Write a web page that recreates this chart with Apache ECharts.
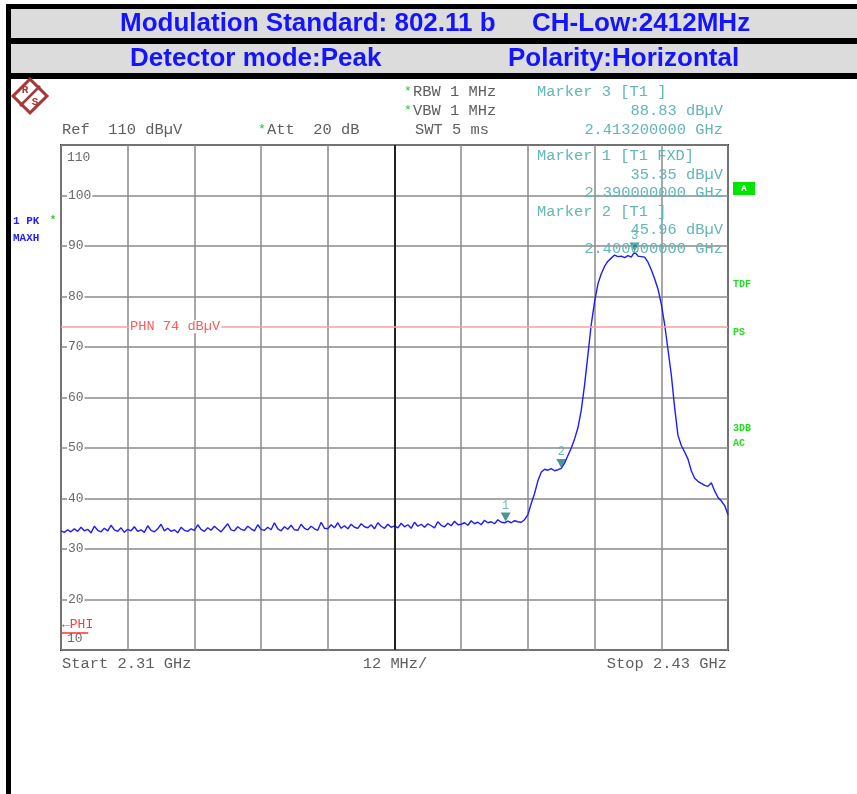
<!DOCTYPE html>
<html><head><meta charset="utf-8">
<script src="https://cdn.jsdelivr.net/npm/echarts@6/dist/echarts.min.js"></script>
<style>html,body{margin:0;padding:0;background:#fff}#c{width:857px;height:794px}</style>
</head><body><div id="c"></div>
<script>
// ---------- data ----------
const headerLine1 = ['Modulation Standard: 802.11 b', 'CH-Low:2412MHz'];
const headerLine2 = ['Detector mode:Peak', 'Polarity:Horizontal'];
const freqStartMHz = 2310;
const freqStopMHz = 2430;
const sweepStepMHz = 0.6;
const yMin = 10, yMax = 110, yStep = 10;
const yTickLabels = ['10','20','30','40','50','60','70','80','90','100','110'];
// trace levels (dBµV) at each sweep point from 2310 MHz in 0.6 MHz steps
const traceLevels = [
  33.6,33.3,33.8,33.4,34.0,33.5,34.3,33.6,33.9,33.2,34.5,33.7,33.4,34.1,33.6,34.7,33.8,33.5,34.2,33.3,
  33.9,33.6,34.4,33.5,33.8,33.3,34.6,33.7,33.4,34.0,34.9,33.6,34.1,33.5,33.8,33.2,34.3,33.7,33.5,34.0,
  33.7,34.8,33.9,33.5,34.2,33.7,34.5,33.9,33.4,34.2,35.0,33.8,33.6,34.4,33.9,33.7,34.5,34.0,33.6,34.8,
  33.9,33.7,34.3,33.8,35.2,34.0,33.6,34.4,33.9,34.7,33.8,33.7,34.9,34.1,33.8,34.5,34.0,33.7,35.3,34.1,
  34.0,34.8,34.2,35.2,34.1,34.6,34.0,34.9,34.3,34.1,35.0,34.4,34.2,34.8,34.0,35.2,34.5,34.1,34.9,34.3,
  34.6,34.2,35.1,34.4,34.8,34.1,35.3,34.5,34.9,34.3,35.0,34.6,34.2,35.4,34.7,34.4,35.1,34.6,35.5,34.8,
  34.9,35.2,34.7,35.6,35.0,35.3,34.8,35.7,35.2,35.4,35.0,35.8,35.3,35.2,
  35.5,35.2,35.6,35.4,35.3,35.8,36.8,39.0,41.0,43.5,45.2,45.8,45.6,45.9,45.5,45.7,45.96,47.0,48.5,50.0,
  51.8,54.0,57.5,62.5,68.5,74.5,79.0,82.5,84.5,86.0,87.0,87.6,88.2,87.9,88.0,87.7,88.1,87.8,88.83,88.0,
  87.9,87.8,86.8,85.3,83.5,81.5,78.5,74.5,69.5,64.5,58.0,52.5,50.5,49.2,47.8,45.5,44.0,43.4,43.0,42.6,
  42.4,43.1,41.5,40.2,39.5,38.6,36.8
];
const markerNames = ['1','2','3'];
const markerFreqs = [2390.0, 2400.0, 2413.2];
const markerLevels = [35.35, 45.96, 88.83];
const displayLineLevel = 74;       // PHN
const displayLineName = 'PHN 74 dBµV';
const phiLevel = 13.5;
const phiEndMHz = 2314.9;
const centerFreqMHz = 2370;
const topInfo = ['RBW 1 MHz', 'VBW 1 MHz', 'SWT 5 ms', 'Ref  110 dBµV', 'Att  20 dB'];
const markerReadouts = [
  ['Marker 3 [T1 ]', '88.83 dBµV', '2.413200000 GHz'],
  ['Marker 1 [T1 FXD]', '35.35 dBµV', '2.390000000 GHz'],
  ['Marker 2 [T1 ]', '45.96 dBµV', '2.400000000 GHz']
];
const bottomInfo = ['Start 2.31 GHz', '12 MHz/', 'Stop 2.43 GHz'];
const sideLabels = ['TDF', 'PS', '3DB', 'AC'];

// ---------- chart ----------
const MONO = "'Liberation Mono','DejaVu Sans Mono',monospace";
const chart = echarts.init(document.getElementById('c'), null, {renderer: 'canvas'});
const traceData = traceLevels.map((v, i) => [+(freqStartMHz + i * sweepStepMHz).toFixed(1), v]);
const markerData = markerFreqs.map((f, i) => [f, markerLevels[i]]);

const gridLine = {color: '#8a8a8a', width: 1.5};

chart.setOption({
  animation: false,
  backgroundColor: '#fff',
  grid: {left: 61, top: 145, width: 667, height: 505, show: true, borderColor: '#333', borderWidth: 2, backgroundColor: 'transparent'},
  xAxis: [
    {type: 'value', min: freqStartMHz, max: freqStopMHz, splitLine: {show: false},
     axisLine: {show: false}, axisTick: {show: false}, axisLabel: {show: false}},
    {type: 'value', min: 0, max: 10, interval: 1, position: 'top', splitLine: {show: true, lineStyle: gridLine},
     axisLine: {show: false}, axisTick: {show: false}, axisLabel: {show: false}}
  ],
  yAxis: {
    type: 'value', min: yMin, max: yMax, interval: yStep,
    axisLine: {show: false}, axisTick: {show: false},
    splitLine: {show: true, lineStyle: gridLine},
    axisLabel: {
      inside: true, margin: 6, color: '#6a6a6a', fontFamily: MONO, fontSize: 13,
      formatter: v => {
        const s = yTickLabels[Math.round((v - yMin) / yStep)];
        if (v === yMax) return '{top|' + s + '}';
        if (v === yMin) return '{bot|' + s + '}';
        return '{n|' + s + '}';
      },
      rich: {
        n: {backgroundColor: '#fff', padding: [0, 1, 0, 1], color: '#6a6a6a', fontFamily: MONO, fontSize: 13},
        top: {padding: [26, 0, 0, 0], color: '#6a6a6a', fontFamily: MONO, fontSize: 13},
        bot: {padding: [0, 0, 22, 0], color: '#6a6a6a', fontFamily: MONO, fontSize: 13}
      }
    }
  },
  series: [
    {
      type: 'line', data: traceData, showSymbol: false, z: 3,
      lineStyle: {color: '#1c1cff', width: 1.4}, itemStyle: {color: '#1c1cff'},
      markLine: {
        silent: true, symbol: 'none', animation: false,
        data: [
          {xAxis: centerFreqMHz, lineStyle: {color: '#222', width: 2, type: 'solid'}, label: {show: false}},
          {yAxis: displayLineLevel, lineStyle: {color: '#ff9c9c', width: 1.5, type: 'solid'}, label: {show: false}},
          [
            {coord: [freqStartMHz, phiLevel], lineStyle: {color: '#ff3030', width: 1.5, type: 'solid'},
             label: {show: true, position: 'insideStartTop', formatter: '←PHI', color: '#ff3a3a', fontFamily: MONO, fontSize: 13, distance: 1}},
            {coord: [phiEndMHz, phiLevel]}
          ]
        ]
      }
    },
    {
      type: 'scatter', data: markerData, z: 5,
      symbol: 'triangle', symbolRotate: 180, symbolSize: [10, 9], symbolOffset: [0, -5],
      itemStyle: {color: '#1e7d7d'},
      label: {show: true, position: 'top', distance: 1, formatter: p => markerNames[p.dataIndex],
              color: '#4aa8a8', fontFamily: MONO, fontSize: 12}
    }
  ]
});

function T(x, y, text, o) {
  o = o || {};
  return {type: 'text', x: x, y: y, z: 100, silent: true, scaleX: o.sx || 1,
    style: {text: text, fill: o.fill || '#5e5e5e', font: o.font || ('13px ' + MONO),
            align: o.align || 'left', verticalAlign: o.va || 'middle',
            backgroundColor: o.bg, padding: o.pad}};
}
// mono annotation text, slightly widened like the analyser's Courier
function M(x, y, text, o) {
  o = Object.assign({font: '14px ' + MONO, sx: 1.1}, o || {});
  return T(x, y, text, o);
}
const headFont = "bold 26px 'Liberation Sans', Arial, sans-serif";
const headBlue = '#1414ff';
const mtc = '#62b6b6';
const greenT = '#22dd22';
const smallBold = 'bold 10px ' + MONO;
const phnY = chart.convertToPixel({xAxisIndex: 0, yAxisIndex: 0}, [freqStartMHz, displayLineLevel])[1];

const els = [
  {type: 'rect', shape: {x: 6, y: 4, width: 851, height: 75}, style: {fill: '#000'}, z: 50},
  {type: 'rect', shape: {x: 11, y: 9, width: 846, height: 29}, style: {fill: '#dcdcdc'}, z: 51},
  {type: 'rect', shape: {x: 11, y: 44, width: 846, height: 29}, style: {fill: '#dcdcdc'}, z: 51},
  {type: 'rect', shape: {x: 6, y: 4, width: 5, height: 790}, style: {fill: '#000'}, z: 50},
  T(120, 24, headerLine1[0], {font: headFont, fill: headBlue}),
  T(532, 24, headerLine1[1], {font: headFont, fill: headBlue}),
  T(130, 59, headerLine2[0], {font: headFont, fill: headBlue}),
  T(508, 59, headerLine2[1], {font: headFont, fill: headBlue}),
  // R&S logo
  {type: 'rect', x: 30, y: 96, rotation: Math.PI / 4, shape: {x: -12, y: -12, width: 24, height: 24},
   style: {fill: '#fff', stroke: '#a83838', lineWidth: 3}, z: 60},
  {type: 'line', shape: {x1: 20, y1: 106, x2: 40, y2: 86}, style: {stroke: '#a83838', lineWidth: 2.5}, z: 61},
  T(25, 90, 'R', {font: 'bold 11px ' + MONO, fill: '#a83838', align: 'center'}),
  T(35, 102, 'S', {font: 'bold 11px ' + MONO, fill: '#a83838', align: 'center'}),
  // top info
  T(404, 92, '*', {fill: '#22cc22'}), M(413, 92, topInfo[0]),
  T(404, 111, '*', {fill: '#22cc22'}), M(413, 111, topInfo[1]),
  M(415, 130, topInfo[2]),
  M(62, 130, topInfo[3]),
  T(258, 130, '*', {fill: '#22cc22'}), M(267, 130, topInfo[4]),
  // marker readouts
  M(537, 92, markerReadouts[0][0], {fill: mtc}),
  M(723, 111, markerReadouts[0][1], {fill: mtc, align: 'right'}),
  M(723, 130, markerReadouts[0][2], {fill: mtc, align: 'right'}),
  M(537, 156, markerReadouts[1][0], {fill: mtc}),
  M(723, 175, markerReadouts[1][1], {fill: mtc, align: 'right'}),
  M(723, 193, markerReadouts[1][2], {fill: mtc, align: 'right'}),
  M(537, 212, markerReadouts[2][0], {fill: mtc}),
  M(723, 230, markerReadouts[2][1], {fill: mtc, align: 'right'}),
  M(723, 249, markerReadouts[2][2], {fill: mtc, align: 'right'}),
  // left trace info
  T(13, 221, '1 PK', {font: smallBold, fill: '#2222ff', sx: 1.1}),
  T(50, 220, '*', {font: smallBold, fill: '#22cc22'}),
  T(13, 238, 'MAXH', {font: smallBold, fill: '#2222ff', sx: 1.1}),
  // right side labels
  {type: 'rect', shape: {x: 733, y: 182, width: 22, height: 13}, style: {fill: '#00e600'}, z: 60},
  T(744, 189, 'A', {font: 'bold 9px ' + MONO, fill: '#fff', align: 'center'}),
  T(733, 284, sideLabels[0], {font: smallBold, fill: greenT}),
  T(733, 332, sideLabels[1], {font: smallBold, fill: greenT}),
  T(733, 428, sideLabels[2], {font: smallBold, fill: greenT}),
  T(733, 443, sideLabels[3], {font: smallBold, fill: greenT}),
  // PHN label
  T(129, phnY, displayLineName, {font: '13px ' + MONO, fill: '#ff5a5a', bg: '#fff', pad: [0, 1, 0, 1], sx: 1.05}),
  // bottom info
  M(62, 664, bottomInfo[0]),
  M(395, 664, bottomInfo[1], {align: 'center'}),
  M(727, 664, bottomInfo[2], {align: 'right'})
];
chart.setOption({graphic: {elements: els}});
</script>
</body></html>
